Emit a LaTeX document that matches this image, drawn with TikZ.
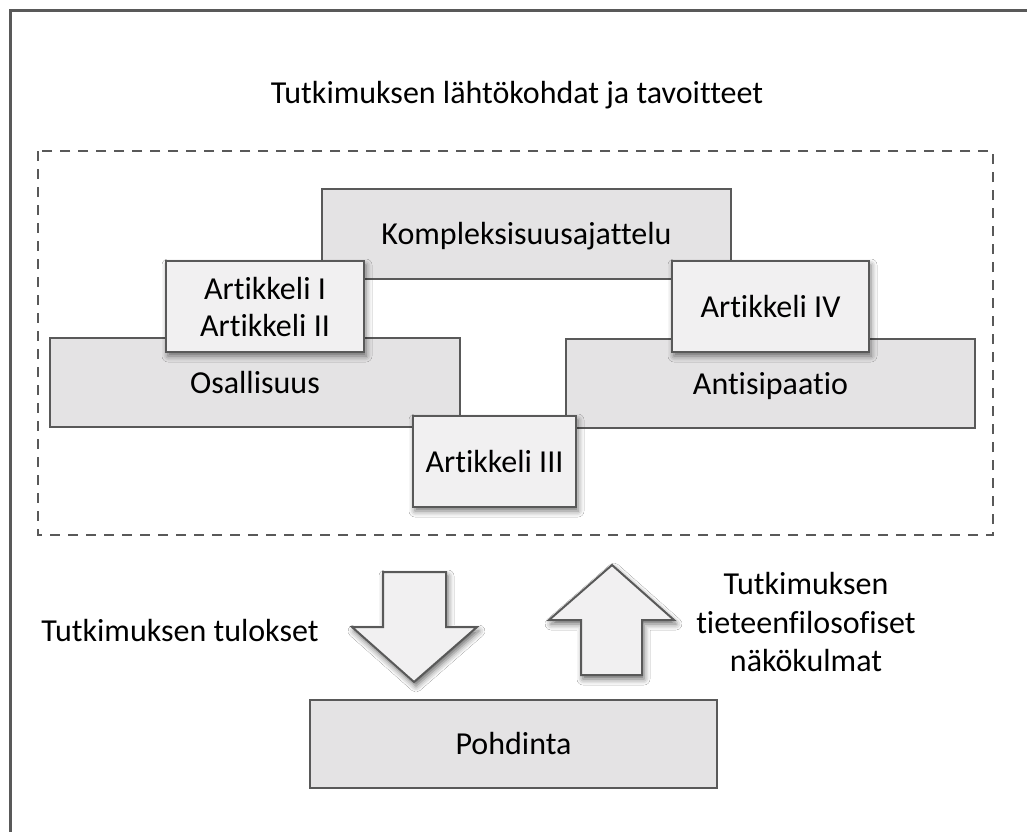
\documentclass[tikz,border=0pt]{standalone}
\usepackage{fontspec}
\setmainfont{Carlito}[Ligatures={NoCommon}]
\usetikzlibrary{shadows.blur}
\definecolor{edge}{HTML}{595959}
\definecolor{boxgray}{HTML}{E4E3E4}
\definecolor{boxlight}{HTML}{F1F0F1}
\tikzset{
  graybox/.style={draw=edge, line width=2pt, fill=boxgray, inner sep=0pt, font=\fontsize{32}{37}\selectfont, align=center},
  oneline/.style={text height=25pt, text depth=4pt},
  artbox/.style={graybox, fill=boxlight, blur shadow={shadow xshift=2pt, shadow yshift=-4pt, shadow blur radius=6pt, shadow opacity=55}},
  arrowshape/.style={draw=edge, line width=2pt, fill=boxlight, line join=miter, blur shadow={shadow xshift=2pt, shadow yshift=-4pt, shadow blur radius=6pt, shadow opacity=60}},
  label/.style={font=\fontsize{32}{38.5}\selectfont, align=center, inner sep=0pt},
}
\begin{document}
\begin{tikzpicture}[x=1pt,y=-1pt]
\useasboundingbox (0,0) rectangle (1027,831);
\fill[white] (0,0) rectangle (1027,831);
% outer frame (cropped at right and bottom)
\draw[edge, line width=3pt] (10.5,840) -- (10.5,10.5) -- (1040,10.5);
% dashed frame
\draw[edge, line width=2pt, dash pattern=on 10pt off 8pt] (38,151) rectangle (993,535);
\node[label] (title) at (517,95) {Tutkimuksen lähtökohdat ja tavoitteet};
% base boxes
\node[graybox, oneline, minimum width=409pt, minimum height=90pt] (komp) at (526.5,234) {Kompleksisuusajattelu};
\node[graybox, oneline, minimum width=410pt, minimum height=89pt] (osal) at (255,382.5) {Osallisuus};
\node[graybox, oneline, minimum width=409pt, minimum height=89pt] (anti) at (770.5,383.5) {Antisipaatio};
% article boxes
\node[artbox, minimum width=198pt, minimum height=91pt] (art12) at (265,306.5) {Artikkeli I\\Artikkeli II};
\node[artbox, oneline, minimum width=197pt, minimum height=91pt] (art4) at (770.5,306.5) {Artikkeli IV};
\node[artbox, oneline, minimum width=163pt, minimum height=91pt] (art3) at (494.5,461.5) {Artikkeli III};
% arrows
\draw[arrowshape] (383,572) -- (446,572) -- (446,627) -- (477,627) -- (414,682) -- (352,627) -- (383,627) -- cycle;
\draw[arrowshape] (612,565) -- (674,620) -- (642,620) -- (642,675) -- (581,675) -- (581,620) -- (549,620) -- cycle;
% bottom
\node[graybox, oneline, minimum width=407pt, minimum height=88pt] (pohd) at (513.5,744) {Pohdinta};
\node[label] (tulokset) at (180,630) {Tutkimuksen tulokset};
\node[label] (filos) at (806,622) {Tutkimuksen\\tieteenfilosofiset\\näkökulmat};
\end{tikzpicture}
\end{document}
